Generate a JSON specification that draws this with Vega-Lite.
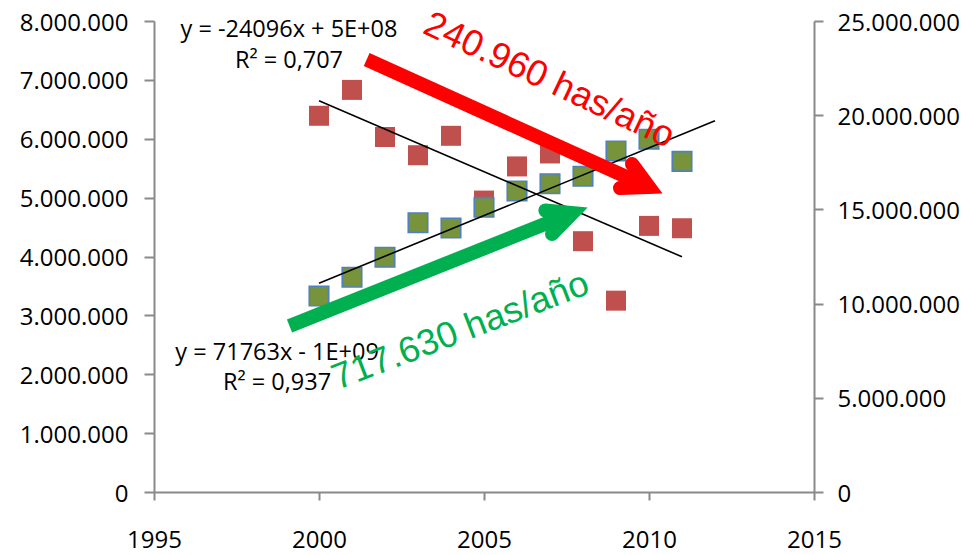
{
  "$schema": "https://vega.github.io/schema/vega-lite/v6.json",
  "width": 660,
  "height": 471,
  "autosize": {"type": "none"},
  "padding": {"left": 154, "top": 21, "right": 163, "bottom": 63},
  "background": "#ffffff",
  "config": {
    "locale": {"number": {"decimal": ",", "thousands": ".", "grouping": [3], "currency": ["", ""]}},
    "view": {"stroke": null},
    "axis": {
      "grid": false,
      "domainColor": "#898989",
      "domainWidth": 2,
      "tickColor": "#898989",
      "tickWidth": 2,
      "labelFont": "Open Sans",
      "labelFontSize": 24,
      "labelColor": "#000000",
      "title": null
    }
  },
  "encoding": {
    "x": {
      "field": "year",
      "type": "quantitative",
      "scale": {"domain": [1995, 2015], "nice": false, "zero": false},
      "axis": {"values": [1995, 2000, 2005, 2010, 2015], "format": "d", "tickSize": 8, "labelPadding": 28, "labelFlush": false, "title": null}
    }
  },
  "layer": [
    {
      "data": {"values": [
        {"year": 2000, "v": 6390000},
        {"year": 2001, "v": 6830000},
        {"year": 2002, "v": 6030000},
        {"year": 2003, "v": 5720000},
        {"year": 2004, "v": 6050000},
        {"year": 2005, "v": 4950000},
        {"year": 2006, "v": 5530000},
        {"year": 2007, "v": 5750000},
        {"year": 2008, "v": 4260000},
        {"year": 2009, "v": 3250000},
        {"year": 2010, "v": 4520000},
        {"year": 2011, "v": 4480000}
      ]},
      "mark": {"type": "square", "size": 400, "filled": true, "color": "#C0504D", "opacity": 1},
      "encoding": {
        "y": {
          "field": "v",
          "type": "quantitative",
          "scale": {"domain": [0, 8000000], "nice": false},
          "axis": {"orient": "left", "values": [0, 1000000, 2000000, 3000000, 4000000, 5000000, 6000000, 7000000, 8000000], "format": ",d", "tickSize": 10, "labelPadding": 16, "labelOffset": 2, "title": null}
        }
      }
    },
    {
      "encoding": {
        "y": {
          "field": "v",
          "type": "quantitative",
          "scale": {"domain": [0, 25000000], "nice": false},
          "axis": {"orient": "right", "values": [0, 5000000, 10000000, 15000000, 20000000, 25000000], "format": ",d", "tickSize": 9, "labelPadding": 14, "labelOffset": 2, "title": null}
        }
      },
      "layer": [
        {
          "data": {"values": [
            {"year": 2000, "v": 10400000},
            {"year": 2001, "v": 11400000},
            {"year": 2002, "v": 12460000},
            {"year": 2003, "v": 14290000},
            {"year": 2004, "v": 14010000},
            {"year": 2005, "v": 15110000},
            {"year": 2006, "v": 15980000},
            {"year": 2007, "v": 16360000},
            {"year": 2008, "v": 16760000},
            {"year": 2009, "v": 18100000},
            {"year": 2010, "v": 18720000},
            {"year": 2011, "v": 17550000}
          ]},
          "mark": {"type": "square", "size": 380, "filled": true, "fill": "#77933C", "stroke": "#4F81BD", "strokeWidth": 1.6, "opacity": 1}
        },
        {
          "data": {"values": [
            {"year": 2000, "v": 11080000},
            {"year": 2012, "v": 19700000}
          ]},
          "mark": {"type": "line", "color": "#000000", "strokeWidth": 1.6},
          "encoding": {}
        }
      ]
    },
    {
      "encoding": {
        "y": {
          "field": "v",
          "type": "quantitative",
          "scale": {"domain": [0, 8000000], "nice": false},
          "axis": null
        }
      },
      "layer": [
        {
          "data": {"values": [
            {"year": 2000, "v": 6646000},
            {"year": 2011, "v": 3995000}
          ]},
          "mark": {"type": "line", "color": "#000000", "strokeWidth": 1.6},
          "encoding": {}
        },
        {
          "data": {"values": [
            {"year": 1999.09, "v": 7842000, "label": "y = -24096x + 5E+08"},
            {"year": 1999.09, "v": 7324000, "label": "R² = 0,707"},
            {"year": 1998.73, "v": 2364000, "label": "y = 71763x - 1E+09"},
            {"year": 1998.73, "v": 1846000, "label": "R² = 0,937"}
          ]},
          "mark": {"type": "text", "font": "Open Sans", "fontSize": 23.5, "color": "#000000", "align": "center", "baseline": "middle"},
          "encoding": {"text": {"field": "label"}}
        },
        {
          "data": {"values": [
            {"year": 2006.97, "v": 6989000, "label": "240.960 has/año"}
          ]},
          "mark": {"type": "text", "font": "Liberation Sans", "fontSize": 36.5, "color": "#FF0000", "align": "center", "baseline": "middle", "angle": 25.2},
          "encoding": {"text": {"field": "label"}}
        },
        {
          "data": {"values": [
            {"year": 2004.29, "v": 2733000, "label": "717.630 has/año"}
          ]},
          "mark": {"type": "text", "font": "Liberation Sans", "fontSize": 36.5, "color": "#00B050", "align": "center", "baseline": "middle", "angle": -21},
          "encoding": {"text": {"field": "label"}}
        },
        {
          "data": {"values": [
            {"year": 2001.445, "v": 7346000, "year2": 2010.0, "v2": 5180000}
          ]},
          "mark": {"type": "rule", "color": "#FF0000", "strokeWidth": 14, "strokeCap": "butt"},
          "encoding": {"x2": {"field": "year2"}, "y2": {"field": "v2"}}
        },
        {
          "data": {"values": [
            {"year": 1999.106, "v": 2819500, "year2": 2007.679, "v2": 4737000}
          ]},
          "mark": {"type": "rule", "color": "#00B050", "strokeWidth": 14, "strokeCap": "butt"},
          "encoding": {"x2": {"field": "year2"}, "y2": {"field": "v2"}}
        },
        {
          "data": {"values": [
            {"year": 2009.485, "v": 5571000, "o": 1},
            {"year": 2010.0, "v": 5180000, "o": 2},
            {"year": 2009.121, "v": 5163000, "o": 3}
          ]},
          "mark": {"type": "line", "color": "#FF0000", "strokeWidth": 14, "strokeCap": "round", "strokeJoin": "miter"},
          "encoding": {"order": {"field": "o", "type": "quantitative"}}
        },
        {
          "data": {"values": [
            {"year": 2006.858, "v": 4781000, "o": 1},
            {"year": 2007.679, "v": 4737000, "o": 2},
            {"year": 2007.061, "v": 4382000, "o": 3}
          ]},
          "mark": {"type": "line", "color": "#00B050", "strokeWidth": 14, "strokeCap": "round", "strokeJoin": "miter"},
          "encoding": {"order": {"field": "o", "type": "quantitative"}}
        }
      ]
    }
  ],
  "resolve": {"scale": {"y": "independent"}, "axis": {"y": "independent"}}
}
